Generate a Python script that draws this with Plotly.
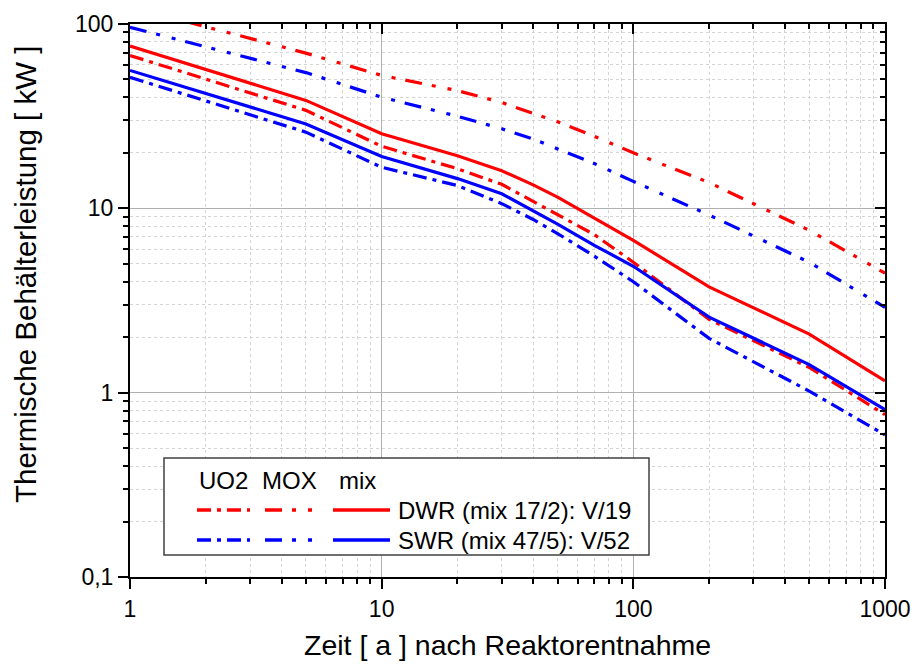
import plotly.graph_objects as go

# Zeitpunkte nach Reaktorentnahme [a]
t = [1, 5, 10, 20, 30, 40, 50, 70, 100, 200, 500, 1000]

# Thermische Behälterleistung [kW]
dwr_uo2 = [67.5, 34.0, 21.7, 16.4, 13.5, 10.9, 9.3, 7.2, 5.1, 2.5, 1.37, 0.76]
dwr_mox = [124, 69.5, 52.6, 43.5, 37.5, 32.8, 29.5, 24.6, 20.0, 13.8, 7.6, 4.45]
dwr_mix = [76, 38.5, 25.4, 19.3, 16.0, 13.4, 11.5, 8.8, 6.7, 3.75, 2.08, 1.16]
swr_uo2 = [51.4, 25.9, 16.7, 13.3, 10.6, 8.7, 7.3, 5.5, 4.0, 1.97, 1.02, 0.59]
swr_mox = [96, 54.5, 40.1, 31.6, 27.0, 23.8, 21.0, 17.5, 14.0, 9.2, 5.1, 2.9]
swr_mix = [56, 28.7, 19.1, 14.5, 12.0, 9.7, 8.2, 6.3, 4.85, 2.57, 1.42, 0.81]

x_ticks = [1, 10, 100, 1000]
x_ticktext = ["1", "10", "100", "1000"]
y_ticks = [0.1, 1, 10, 100]
y_ticktext = ["0,1", "1", "10", "100"]

legend_header = ["UO2", "MOX", "mix"]
legend_rows = ["DWR (mix 17/2): V/19", "SWR (mix 47/5): V/52"]

RED = "#ff0000"
BLUE = "#0000ff"
DASH_UO2 = "14px,6px,4px,6px"
DASH_MOX = "17px,10px,4px,12px,4px,10px"
FONT = "Liberation Sans, Arial, sans-serif"

W, H = 914, 665
ML, MR, MT, MB = 130, 29, 24, 88


def px(xp):
    return (xp - ML) / (W - ML - MR)


def py(yp):
    return (H - MB - yp) / (H - MT - MB)


def minor_vals(lo, hi):
    out = []
    for e in range(lo, hi):
        for k in range(2, 10):
            out.append(k * 10 ** e)
    return out


fig = go.Figure()

series = [
    (dwr_mox, RED, DASH_MOX, "DWR MOX"),
    (swr_mox, BLUE, DASH_MOX, "SWR MOX"),
    (dwr_uo2, RED, DASH_UO2, "DWR UO2"),
    (dwr_mix, RED, "solid", "DWR mix"),
    (swr_uo2, BLUE, DASH_UO2, "SWR UO2"),
    (swr_mix, BLUE, "solid", "SWR mix"),
]
for vals, col, dash, name in series:
    fig.add_trace(go.Scatter(
        x=t, y=vals, mode="lines", name=name,
        line=dict(color=col, width=3.2, dash=dash),
        showlegend=False, hoverinfo="skip",
    ))

# invisible trace carrying the mirrored top/right axes
fig.add_trace(go.Scatter(x=[10], y=[1], xaxis="x2", yaxis="y2", mode="markers",
                         marker=dict(opacity=0), showlegend=False, hoverinfo="skip"))

common_font = dict(family=FONT, size=23, color="black")

fig.update_layout(
    width=W, height=H,
    margin=dict(l=ML, r=MR, t=MT, b=MB, autoexpand=False),
    paper_bgcolor="white", plot_bgcolor="white",
    font=common_font,
    xaxis=dict(
        type="log", range=[0, 3], automargin=False,
        tickmode="array", tickvals=x_ticks, ticktext=x_ticktext,
        ticks="outside", ticklen=10, tickwidth=2, tickcolor="black",
        showline=True, linewidth=2, linecolor="black", mirror=True,
        showgrid=True, gridcolor="#b0b0b0", gridwidth=1,
        tickfont=common_font, zeroline=False,
        minor=dict(tickmode="array", tickvals=minor_vals(0, 3),
                   ticks="outside", ticklen=5, tickwidth=1.5, tickcolor="black",
                   showgrid=True, gridcolor="#d4d4d4", griddash="dot", gridwidth=1),
    ),
    yaxis=dict(
        type="log", range=[-1, 2], automargin=False,
        tickmode="array", tickvals=y_ticks, ticktext=y_ticktext,
        ticks="outside", ticklen=10, tickwidth=2, tickcolor="black",
        showline=True, linewidth=2, linecolor="black", mirror=True,
        showgrid=True, gridcolor="#b0b0b0", gridwidth=1,
        tickfont=common_font, zeroline=False,
        minor=dict(tickmode="array", tickvals=minor_vals(-1, 2),
                   ticks="outside", ticklen=5, tickwidth=1.5, tickcolor="black",
                   showgrid=True, gridcolor="#d4d4d4", griddash="dot", gridwidth=1),
    ),
    xaxis2=dict(
        type="log", range=[0, 3], overlaying="x", side="top", anchor="y",
        automargin=False,
        tickmode="array", tickvals=x_ticks, showticklabels=False,
        ticks="inside", ticklen=10, tickwidth=2, tickcolor="black",
        showgrid=False, showline=False, zeroline=False,
        minor=dict(tickmode="array", tickvals=minor_vals(0, 3),
                   ticks="inside", ticklen=5, tickwidth=1.5, tickcolor="black",
                   showgrid=False),
    ),
    yaxis2=dict(
        type="log", range=[-1, 2], overlaying="y", side="right", anchor="x",
        automargin=False,
        tickmode="array", tickvals=y_ticks, showticklabels=False,
        ticks="inside", ticklen=10, tickwidth=2, tickcolor="black",
        showgrid=False, showline=False, zeroline=False,
        minor=dict(tickmode="array", tickvals=minor_vals(-1, 2),
                   ticks="inside", ticklen=5, tickwidth=1.5, tickcolor="black",
                   showgrid=False),
    ),
)

# axis titles
fig.add_annotation(text="Zeit [ a ] nach Reaktorentnahme", xref="paper", yref="paper",
                   x=0.5, y=py(645), xanchor="center", yanchor="middle",
                   showarrow=False, font=dict(family=FONT, size=28.5, color="black"))
fig.add_annotation(text="Thermische Behälterleistung [ kW ]", xref="paper", yref="paper",
                   x=px(25), y=py(275), xanchor="center", yanchor="middle", textangle=-90,
                   showarrow=False, font=dict(family=FONT, size=29.5, color="black"))

# legend box
fig.add_shape(type="rect", xref="paper", yref="paper",
              x0=px(164), x1=px(649), y0=py(555), y1=py(458),
              fillcolor="white", line=dict(color="#404040", width=1.5), layer="above")

legend_font = dict(family=FONT, size=24, color="black")
for label, cx in zip(legend_header, [223, 289, 357]):
    fig.add_annotation(text=label, xref="paper", yref="paper", x=px(cx), y=py(480),
                       xanchor="center", yanchor="middle", showarrow=False, font=legend_font)

for label, col, yrow in zip(legend_rows, [RED, BLUE], [510, 540]):
    for (x0, x1), dash in zip([(197, 250), (265, 313), (333, 390)],
                              [DASH_UO2, DASH_MOX, "solid"]):
        fig.add_shape(type="line", xref="paper", yref="paper",
                      x0=px(x0), x1=px(x1), y0=py(yrow), y1=py(yrow),
                      line=dict(color=col, width=3.5, dash=dash), layer="above")
    fig.add_annotation(text=label, xref="paper", yref="paper", x=px(396), y=py(yrow),
                       xanchor="left", yanchor="middle", showarrow=False, font=legend_font)

fig.write_html("out.html")
